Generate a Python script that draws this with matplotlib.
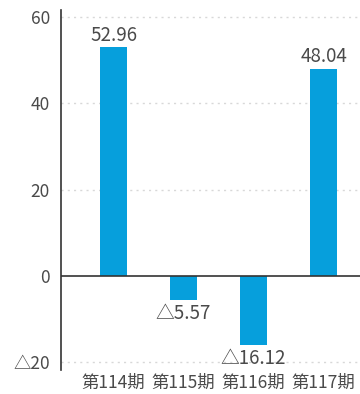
import matplotlib
matplotlib.use("Agg")
from matplotlib import pyplot as plt

plt.rcParams['font.family'] = ['Noto Sans CJK JP', 'DejaVu Sans']

# Data
periods = ["第114期", "第115期", "第116期", "第117期"]
values = [52.96, -5.57, -16.12, 48.04]
yticks = [-20, 0, 20, 40, 60]


def fmt(v):
    # negative numbers are written with a triangle
    return "△" + format(abs(v), ".2f") if v < 0 else format(v, ".2f")


def fmt_tick(v):
    return "△" + str(abs(v)) if v < 0 else str(v)


fig = plt.figure(figsize=(3.6, 3.94), dpi=100)
ax = fig.add_axes([61 / 360, 24 / 394, 1 - 61 / 360, 360 / 394])

x = range(len(periods))
ax.bar(x, values, width=0.386, color='#069fdc', zorder=3)

for xi, v in zip(x, values):
    if v >= 0:
        ax.text(xi, v + 0.4, fmt(v), ha='center', va='bottom', fontsize=13.5, color='#4a4a4a')
    else:
        ax.text(xi, v - 0.6, fmt(v), ha='center', va='top', fontsize=13.5, color='#4a4a4a')

ax.set_xlim(-0.75, 3.52)
ax.set_ylim(-21.8, 61.6)
ax.set_yticks(yticks)
ax.set_yticklabels([fmt_tick(t) for t in yticks])
ax.set_xticks(list(x))
ax.set_xticklabels(periods)
ax.tick_params(axis='y', length=0, pad=8, labelsize=12.5, labelcolor='#4a4a4a')
ax.tick_params(axis='x', length=0, pad=3, labelsize=12.5, labelcolor='#4a4a4a')

# dotted grid, solid zero line
for t in yticks:
    if t != 0:
        ax.axhline(t, color='#d8d8d8', linestyle=(0, (1.5, 3)), linewidth=1, zorder=1)
ax.axhline(0, color='#333333', linewidth=1.2, zorder=4)

for side in ['top', 'right', 'bottom']:
    ax.spines[side].set_visible(False)
ax.spines['left'].set_color('#333333')
ax.spines['left'].set_linewidth(1.2)

fig.savefig("out.png", dpi=100)
